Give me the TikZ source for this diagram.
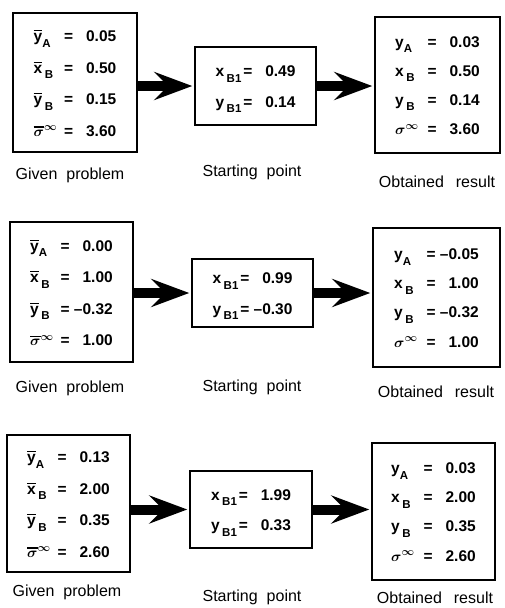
\documentclass[tikz,border=0pt]{standalone}
\usepackage{fontspec}
\setmainfont{Liberation Sans}
\usetikzlibrary{arrows.meta}

\newcommand{\lowix}[1]{\raisebox{-5.5pt}{\fontsize{11.5}{12}\selectfont #1}}
\newcommand{\ovl}[1]{\leavevmode\setbox0\hbox{#1}\rlap{\rule[\dimexpr\ht0+2pt\relax]{\wd0}{1.2pt}}\box0}
\newcommand{\val}[1]{\makebox[42pt][r]{#1}}
\newcommand{\givenvals}[4]{\renewcommand{\arraystretch}{1.75}%
\begin{tabular}{@{}l@{\hspace{7pt}}c@{\hspace{1pt}}r@{}}
  \ovl{y}\lowix{A} & = & \val{#1}\\
  \ovl{x}\,\lowix{B} & = & \val{#2}\\
  \ovl{y}\,\lowix{B} & = & \val{#3}\\
  \ovl{$\sigma$}$^{\infty}$ & = & \val{#4}
\end{tabular}}
\newcommand{\startvals}[2]{\renewcommand{\arraystretch}{1.67}%
\begin{tabular}{@{}l@{\hspace{2pt}}c@{\hspace{1pt}}r@{}}
  x\,\lowix{B1} & = & \val{#1}\\
  y\,\lowix{B1} & = & \val{#2}
\end{tabular}}
\newcommand{\resultvals}[4]{\renewcommand{\arraystretch}{1.62}%
\begin{tabular}{@{}l@{\hspace{9pt}}c@{\hspace{1pt}}r@{}}
  y\lowix{A} & = & \val{#1}\\
  x\,\lowix{B} & = & \val{#2}\\
  y\,\lowix{B} & = & \val{#3}\\
  $\sigma^{\infty}$ & = & \val{#4}
\end{tabular}}

\tikzset{
  databox/.style={draw, line width=1.5pt, inner sep=0pt, align=center,
    font=\fontsize{15.5}{18}\selectfont\bfseries\boldmath},
  caption/.style={font=\fontsize{16}{18}\selectfont},
  fatarrow/.style={line width=10pt, -{Stealth[length=38pt, width=28pt, inset=14pt]}, shorten >=2pt}
}

\begin{document}
\begin{tikzpicture}[x=1pt, y=-1pt]
  \useasboundingbox (0,0) rectangle (504,608);

  % first case
  \node[databox, minimum width=124pt, minimum height=139pt] (g1) at (75,82.5) {\givenvals{0.05}{0.50}{0.15}{3.60}};
  \node[databox, minimum width=121pt, minimum height=78pt] (s1) at (255.5,86) {\startvals{0.49}{0.14}};
  \node[databox, minimum width=125pt, minimum height=136pt] (o1) at (437.5,85) {\resultvals{0.03}{0.50}{0.14}{3.60}};
  \draw[fatarrow] (g1.east |- s1.center) -- (s1.west);
  \draw[fatarrow] (s1.east) -- (s1.east -| o1.west);
  \node[caption] (g1cap) at (70,175) {Given\hspace{9pt}problem};
  \node[caption] (s1cap) at (252,172) {Starting\hspace{9pt}point};
  \node[caption] (o1cap) at (437,182) {Obtained\hspace{12pt}result};

  % second case
  \node[databox, minimum width=123pt, minimum height=140pt] (g2) at (71.5,292) {\givenvals{0.00}{1.00}{--0.32}{1.00}};
  \node[databox, minimum width=121pt, minimum height=68pt] (s2) at (252.5,293) {\startvals{0.99}{--0.30}};
  \node[databox, minimum width=127pt, minimum height=139pt] (o2) at (436.5,297.5) {\resultvals{--0.05}{1.00}{--0.32}{1.00}};
  \draw[fatarrow] (g2.east |- s2.center) -- (s2.west);
  \draw[fatarrow] (s2.east) -- (s2.east -| o2.west);
  \node[caption] (g2cap) at (70,388) {Given\hspace{9pt}problem};
  \node[caption] (s2cap) at (252,387) {Starting\hspace{9pt}point};
  \node[caption] (o2cap) at (436,392) {Obtained\hspace{12pt}result};

  % third case
  \node[databox, minimum width=123pt, minimum height=137pt] (g3) at (68.5,503.5) {\givenvals{0.13}{2.00}{0.35}{2.60}};
  \node[databox, minimum width=122pt, minimum height=77pt] (s3) at (251,509.5) {\startvals{1.99}{0.33}};
  \node[databox, minimum width=123pt, minimum height=137pt] (o3) at (433.5,511.5) {\resultvals{0.03}{2.00}{0.35}{2.60}};
  \draw[fatarrow] (g3.east |- s3.center) -- (s3.west);
  \draw[fatarrow] (s3.east) -- (s3.east -| o3.west);
  \node[caption] (g3cap) at (67,592) {Given\hspace{9pt}problem};
  \node[caption] (s3cap) at (252,597) {Starting\hspace{9pt}point};
  \node[caption] (o3cap) at (435,598) {Obtained\hspace{12pt}result};
\end{tikzpicture}
\end{document}
